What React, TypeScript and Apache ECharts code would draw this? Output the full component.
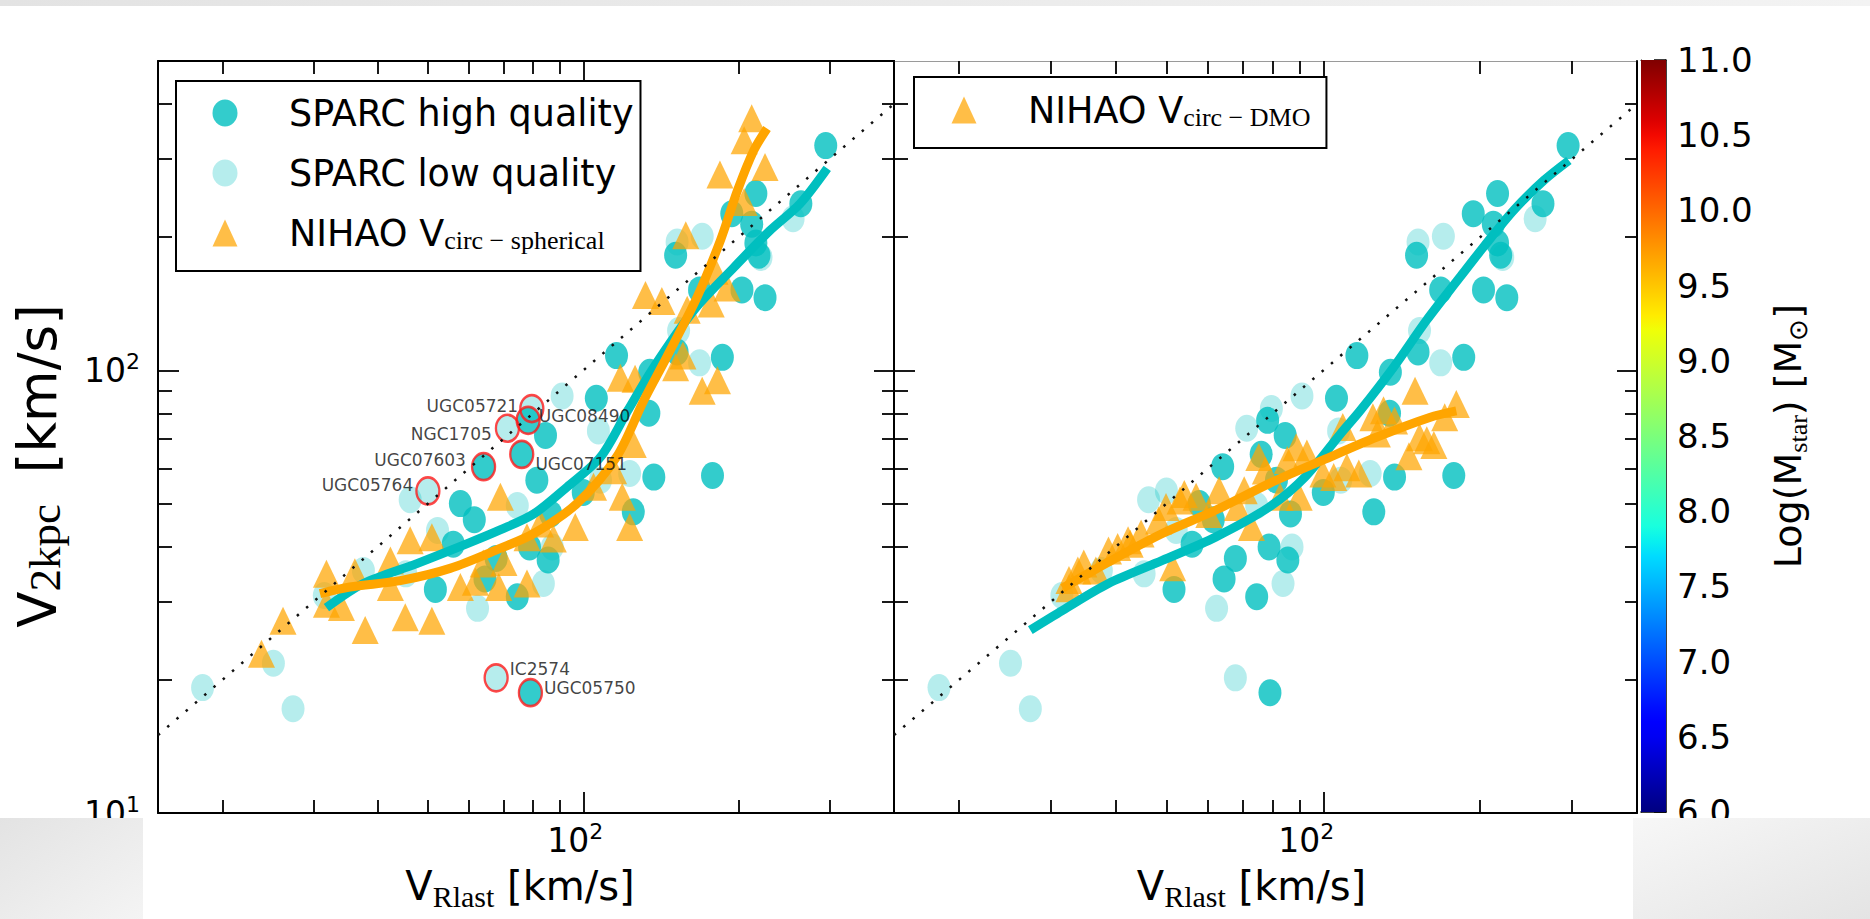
import React, { useEffect, useRef } from 'react';
import * as echarts from 'echarts';

// ---------------- data ----------------
const xRange = [15, 400];
const yRange = [10, 500];
const minorTickValues = [20, 30, 40, 50, 60, 70, 80, 90, 200, 300, 400];
const majorTickValues = [100];
const xLabelValues = [100];
const yLabelValues = [10, 100];
const colorbarRange = [6, 11];
const colorbarStep = 0.5;

const sparcHigh: [number, number][] = [
  [295, 322], [216, 251], [194, 226], [264, 238], [151, 182], [216, 194], [219, 182],
  [203, 152], [225, 146], [168, 152], [152, 110], [186, 107], [134.5, 99], [116, 108],
  [106, 86.5], [134, 80], [212, 214], [137, 57.4], [125, 47.9], [100, 53], [81.3, 56.5],
  [57.8, 50], [61.5, 46], [56, 40.5], [85.5, 37.3], [74.5, 30.8], [64.5, 33.8], [51.7, 32],
  [67.8, 37.6], [78.7, 39.9], [86.5, 47.4], [84.5, 71.3], [178, 57.9],
];

const sparcLow: [number, number][] = [
  [18.3, 19.2], [25.1, 21.8], [27.4, 17.2], [255, 220], [152, 195], [170, 201], [221, 180],
  [153, 123], [168, 104], [91, 87.5], [46.2, 51], [52.2, 43.5], [74.5, 49.5], [83.7, 33],
  [62.4, 29], [37.5, 35.3], [45.3, 34.7], [31.5, 31], [87.1, 39.9], [123, 58.5], [108, 56.5],
  [107, 73],
];

const namedGalaxies = ['UGC05721', 'UGC08490', 'NGC1705', 'UGC07603', 'UGC07151', 'UGC05764', 'IC2574', 'UGC05750'];
const namedValues: [number, number][] = [
  [79.5, 82], [78.2, 77.1], [71.3, 74], [64.1, 60.6], [76, 64.6], [50, 53.4], [67.8, 20.2], [79, 18.7],
];
const namedHighQuality = [false, true, false, true, true, false, false, true];

const nihaoSpherical: [number, number][] = [
  [212, 371], [205, 331], [184, 277], [225, 288], [205, 240], [158, 202], [180, 168], [132, 148],
  [142, 143.5], [159, 137], [177, 141.6], [190, 154], [156, 108], [151, 101.7], [118, 96.3],
  [126, 95.8], [182, 95], [170, 90], [125, 68.2], [119, 51.8], [123, 44.3], [114.5, 59.5],
  [96.5, 44.3], [87.5, 41.7], [77.8, 42], [69.1, 51.8], [77.8, 33], [68.6, 32.4], [57.8, 32.4],
  [61.8, 33.3], [70.2, 36.9], [50.9, 42], [46.2, 41.3], [42.3, 37.2], [42.3, 32.4], [36.1, 35],
  [31.8, 34.7], [31.8, 29.7], [34, 29.2], [37.8, 25.9], [45.2, 27.7], [50.9, 27.2], [26.2, 27.2],
  [23.8, 22.9], [82.6, 45.1], [104.7, 54.6], [64, 36.6],
];

const nihaoDMO: [number, number][] = [
  [32.5, 33.6], [32.5, 32.2], [34.7, 36.6], [36.6, 35.3], [33.8, 35.3], [38.7, 39.2], [40.3, 39.9],
  [42.6, 40.6], [42.2, 41.3], [44.7, 42.8], [48.3, 45.8], [49.9, 49.1], [53.1, 50.8], [54.1, 52.6],
  [57, 51.8], [51.4, 35.9], [60.3, 47.4], [63.1, 53.6], [68.4, 49.1], [70.5, 53.6], [72.8, 44.3],
  [75.2, 63.7], [77.4, 59.4], [82.6, 51.8], [85.3, 62.7], [88.7, 67], [89.9, 51.8], [93, 64.9],
  [99.8, 58.5], [104.7, 57.4], [109, 74.5], [111, 60.4], [117, 58.5], [124.5, 78.4], [127, 72],
  [130.5, 81.3], [137, 77], [146, 64], [150, 90], [153, 70.6], [158, 69.5], [163, 67.8],
  [171, 78.4], [180, 84],
];

const medianSparcLeft: [number, number][] = [
  [31.8, 29.1], [37.5, 33.0], [47.6, 36.6], [59.6, 40.6], [69, 43.6], [80.2, 47.4], [93, 54.5],
  [108, 63.7], [122, 81.2], [137, 101.7], [164, 137], [196, 171], [230, 207], [263, 238], [297, 286],
];
const medianNihaoSpherical: [number, number][] = [
  [30.9, 31.3], [35.3, 32.4], [44.2, 33.5], [55.2, 35.7], [69, 39.6], [80.2, 42.8], [97.2, 50],
  [116, 63.7], [131, 85.5], [145, 107], [166, 146], [184.5, 197], [199, 255], [214, 314], [227, 352],
];
const medianSparcRight: [number, number][] = [
  [27.4, 25.9], [31.6, 28.7], [38.7, 33.0], [49.1, 37.2], [62.1, 42.0], [78.7, 49.1], [92.2, 57.4],
  [108, 72], [117.8, 81.2], [136.5, 101.7], [158, 130], [183, 162.5], [203, 190], [232, 230],
  [265, 268.6], [296, 298],
];
const medianNihaoDMO: [number, number][] = [
  [31.6, 32.2], [38.7, 36.9], [49.1, 42.8], [62.1, 48.3], [78.7, 55.5], [99.8, 62.7], [126.4, 70.6],
  [160, 78.3], [180, 81],
];
const oneToOne: [number, number][] = [[15, 15], [400, 400]];

// ---------------- styles ----------------
const SANS = 'DejaVu Sans';
const SERIF = 'Liberation Serif';
const INK = '#000';
const C_HIGH = '#00BFBF';
const C_LOW = 'rgba(0,191,191,0.36)';
const C_ORANGE = '#FFA500';
const C_TRI = 'rgba(255,165,0,0.9)';
const ELLIPSE = 'path://M0,1 A1,1 0 1 1 2,1 A1,1 0 1 1 0,1 Z';
const CIRCLE_SIZE = [23, 27];
const TRI_SIZE = [27, 28];

const namedLabelStyle: any[] = [
  { position: 'left', distance: 1, offset: [0, -3] },
  { position: 'right', distance: -2, offset: [0, -4] },
  { position: 'left', distance: 3, offset: [0, 6] },
  { position: 'left', distance: 5, offset: [0, -7] },
  { position: 'right', distance: 1, offset: [0, 10] },
  { position: 'left', distance: 2, offset: [0, -6] },
  { position: 'right', distance: 1, offset: [0, -9] },
  { position: 'right', distance: 1, offset: [0, -5] },
];

const JET_R = [[0, 0], [0.35, 0], [0.66, 1], [0.89, 1], [1, 0.5]];
const JET_G = [[0, 0], [0.125, 0], [0.375, 1], [0.64, 1], [0.91, 0], [1, 0]];
const JET_B = [[0, 0.5], [0.11, 1], [0.34, 1], [0.65, 0], [1, 0]];
function interp(pts: number[][], t: number) {
  for (let i = 1; i < pts.length; i++) {
    if (t <= pts[i][0]) {
      const [t0, v0] = pts[i - 1];
      const [t1, v1] = pts[i];
      return v0 + ((v1 - v0) * (t - t0)) / (t1 - t0);
    }
  }
  return pts[pts.length - 1][1];
}
function jet(t: number) {
  const c = (a: number) => Math.round(a * 255);
  return `rgb(${c(interp(JET_R, t))},${c(interp(JET_G, t))},${c(interp(JET_B, t))})`;
}

const powLabel = (v: number) => `{b|10}{s|${Math.round(Math.log10(v))}}`;
const powRich = {
  b: { fontFamily: SANS, fontSize: 33, lineHeight: 40, color: INK },
  s: { fontFamily: SANS, fontSize: 22, lineHeight: 14, verticalAlign: 'top', color: INK },
};

const lineOn = (color = INK, width = 2) => ({ show: true, onZero: false, lineStyle: { color, width } });

function frameAxis(kind: 'x' | 'y', gridIndex: number, position: string, ticks: number[], len: number, extra: any = {}) {
  const range = kind === 'x' ? xRange : yRange;
  return {
    type: 'log',
    logBase: 10,
    gridIndex,
    position,
    min: range[0],
    max: range[1],
    axisLine: { show: false, onZero: false },
    axisTick: { show: true, inside: true, length: len, customValues: ticks, lineStyle: { color: INK, width: 1.8 } },
    axisLabel: { show: false },
    splitLine: { show: false },
    minorTick: { show: false },
    minorSplitLine: { show: false },
    ...extra,
  };
}

const legendText = (name: string) =>
  name === 'NIHAO spherical'
    ? 'NIHAO V{sub|circ − spherical}'
    : name === 'NIHAO DMO'
    ? 'NIHAO V{sub|circ − DMO}'
    : name;

const legendTextStyle = {
  fontFamily: SANS,
  fontSize: 36.5,
  lineHeight: 40,
  color: INK,
  padding: [0, 0, 0, 46.5],
  rich: { sub: { fontFamily: SERIF, fontSize: 26, lineHeight: 23, verticalAlign: 'bottom', color: INK } },
};

function buildOption() {
  const grid = [
    { left: 158, top: 61, width: 736, height: 752 },
    { left: 894, top: 61, width: 743, height: 752 },
    { left: 1641, top: 60, width: 25, height: 752 },
  ].map((g) => ({ ...g, containLabel: false, outerBoundsMode: 'none' }));

  const xAxes: any[] = [];
  const yAxes: any[] = [];
  const mainX: number[] = [];
  const mainY: number[] = [];

  for (const g of [0, 1]) {
    mainX.push(xAxes.length);
    xAxes.push(
      frameAxis('x', g, 'bottom', minorTickValues, 13, {
        axisLine: lineOn(),
        axisLabel: {
          show: true,
          customValues: xLabelValues,
          formatter: powLabel,
          rich: powRich,
          margin: 7,
          padding: [0, g === 0 ? 16 : 34, 0, 0],
          showMinLabel: true,
          showMaxLabel: true,
        },
        name: 'V{sub|Rlast} [km/s]',
        nameLocation: 'middle',
        nameGap: 44,
        nameTextStyle: {
          fontFamily: SANS,
          fontSize: 40,
          lineHeight: 50,
          color: INK,
          padding: [0, g === 0 ? 12 : 28, 0, 0],
          rich: { sub: { fontFamily: SERIF, fontSize: 30, lineHeight: 28, verticalAlign: 'bottom', color: INK } },
        },
      })
    );
    xAxes.push(frameAxis('x', g, 'bottom', majorTickValues, 21));
    xAxes.push(frameAxis('x', g, 'top', minorTickValues, 13, { axisLine: lineOn(g === 0 ? INK : '#9a9a9a', g === 0 ? 2 : 1) }));
    xAxes.push(frameAxis('x', g, 'top', majorTickValues, 21));

    mainY.push(yAxes.length);
    yAxes.push(
      frameAxis('y', g, 'left', minorTickValues, 14, {
        axisLine: lineOn(),
        axisLabel:
          g === 0
            ? {
                show: true,
                customValues: yLabelValues,
                formatter: powLabel,
                rich: powRich,
                margin: 18,
                showMinLabel: true,
                showMaxLabel: true,
              }
            : { show: false },
        ...(g === 0
          ? {
              name: 'V{sub|2kpc} [km/s]',
              nameLocation: 'middle',
              nameRotate: 90,
              nameGap: 91,
              nameTextStyle: {
                fontFamily: SANS,
                fontSize: 53,
                lineHeight: 60,
                color: INK,
                padding: [0, 58, 0, 0],
                rich: {
                  sub: {
                    fontFamily: SERIF, fontSize: 45, lineHeight: 36, verticalAlign: 'bottom', color: INK,
                    padding: [0, 14, 0, 0],
                  },
                },
              },
            }
          : {}),
      })
    );
    yAxes.push(frameAxis('y', g, 'left', majorTickValues, 21));
    yAxes.push(frameAxis('y', g, 'right', minorTickValues, 12, { axisLine: lineOn() }));
    yAxes.push(frameAxis('y', g, 'right', majorTickValues, 20));
  }

  // colorbar axes
  const cbX = xAxes.length;
  xAxes.push({
    type: 'category', gridIndex: 2, position: 'bottom', data: ['Mstar'],
    axisLine: lineOn(INK, 1.5), axisTick: { show: false }, axisLabel: { show: false }, splitLine: { show: false },
  });
  xAxes.push({
    type: 'category', gridIndex: 2, position: 'top', data: ['Mstar'],
    axisLine: lineOn(INK, 1), axisTick: { show: false }, axisLabel: { show: false }, splitLine: { show: false },
  });
  const cbY = yAxes.length;
  yAxes.push({
    type: 'value', gridIndex: 2, position: 'right',
    min: colorbarRange[0], max: colorbarRange[1], interval: colorbarStep, startValue: colorbarRange[0],
    axisLine: lineOn(INK, 1.5),
    axisTick: { show: true, inside: true, length: 12, lineStyle: { color: INK, width: 1.5 } },
    axisLabel: {
      show: true, margin: 11, formatter: (v: number) => v.toFixed(1),
      fontFamily: SANS, fontSize: 34, color: INK, showMinLabel: true, showMaxLabel: true,
    },
    splitLine: { show: false },
    name: 'Log(M{sub|star}) [M{sub|⊙}]',
    nameLocation: 'middle',
    nameRotate: 90,
    nameGap: 99,
    nameTextStyle: {
      fontFamily: SANS, fontSize: 38, lineHeight: 46, color: INK,
      rich: { sub: { fontFamily: SERIF, fontSize: 26, lineHeight: 28, verticalAlign: 'bottom', color: INK } },
    },
  });
  yAxes.push({
    type: 'value', gridIndex: 2, position: 'left', min: colorbarRange[0], max: colorbarRange[1],
    axisLine: lineOn(INK, 1), axisTick: { show: false }, axisLabel: { show: false }, splitLine: { show: false },
  });

  const jetStops = Array.from({ length: 51 }, (_, i) => ({ offset: i / 50, color: jet(i / 50) }));

  const highAll = sparcHigh.concat(namedValues.filter((_, i) => namedHighQuality[i]));
  const lowAll = sparcLow.concat(namedValues.filter((_, i) => !namedHighQuality[i]));

  const series: any[] = [];
  const panels = [
    { g: 0, tri: nihaoSpherical, triName: 'NIHAO spherical', cyan: medianSparcLeft, orange: medianNihaoSpherical },
    { g: 1, tri: nihaoDMO, triName: 'NIHAO DMO', cyan: medianSparcRight, orange: medianNihaoDMO },
  ];
  for (const p of panels) {
    const ax = { xAxisIndex: mainX[p.g], yAxisIndex: mainY[p.g] };
    series.push({
      type: 'scatter', name: 'SPARC low quality', ...ax, data: lowAll, symbol: ELLIPSE, symbolSize: CIRCLE_SIZE,
      symbolKeepAspect: false, itemStyle: { color: C_LOW }, silent: true,
    });
    series.push({
      type: 'scatter', name: 'SPARC high quality', ...ax, data: highAll, symbol: ELLIPSE, symbolSize: CIRCLE_SIZE,
      symbolKeepAspect: false, itemStyle: { color: C_HIGH }, silent: true,
    });
    series.push({
      type: 'line', name: 'SPARC median ' + p.g, ...ax, data: p.cyan, symbol: 'none', smooth: 0.3,
      lineStyle: { color: C_HIGH, width: 9 }, silent: true,
    });
    series.push({
      type: 'scatter', name: p.triName, ...ax, data: p.tri, symbol: 'triangle', symbolSize: TRI_SIZE,
      itemStyle: { color: C_TRI }, silent: true,
    });
    series.push({
      type: 'line', name: 'NIHAO median ' + p.g, ...ax, data: p.orange, symbol: 'none', smooth: 0.3,
      lineStyle: { color: C_ORANGE, width: 9 }, silent: true,
    });
    if (p.g === 0) {
      series.push({
        type: 'scatter', name: 'named galaxies', ...ax, symbol: ELLIPSE, symbolSize: CIRCLE_SIZE, symbolKeepAspect: false,
        silent: true, z: 3,
        data: namedGalaxies.map((name, i) => ({
          name,
          value: namedValues[i],
          itemStyle: { color: 'rgba(0,0,0,0)', borderColor: '#ff1a1a', borderWidth: 2.5 },
          label: {
            show: true, formatter: name, fontFamily: SANS, fontSize: 17, lineHeight: 15, color: '#111',
            ...namedLabelStyle[i],
          },
        })),
      });
    }
    series.push({
      type: 'line', name: 'one to one ' + p.g, ...ax, data: oneToOne, symbol: 'none', z: 4,
      lineStyle: { color: '#111', width: 2.5, type: [2.5, 9.7] }, silent: true,
    });
  }
  series.push({
    type: 'bar', name: 'colorbar', xAxisIndex: cbX, yAxisIndex: cbY, data: [colorbarRange[1]], barWidth: '100%',
    itemStyle: { color: new echarts.graphic.LinearGradient(0, 1, 0, 0, jetStops) }, silent: true,
  });

  return {
    animation: false,
    backgroundColor: '#fff',
    grid,
    xAxis: xAxes,
    yAxis: yAxes,
    legend: [
      {
        data: ['SPARC high quality', 'SPARC low quality', 'NIHAO spherical'],
        left: 176, top: 81, orient: 'vertical', itemWidth: 25, itemHeight: 27, itemGap: 20,
        padding: [12, 7, 18, 36.5], borderColor: INK, borderWidth: 2, backgroundColor: '#fff',
        symbolKeepAspect: false, selectedMode: false, formatter: legendText, textStyle: legendTextStyle,
      },
      {
        data: ['NIHAO DMO'],
        left: 914, top: 77, orient: 'vertical', itemWidth: 25, itemHeight: 27, itemGap: 20,
        padding: [13, 16, 18, 37.5], borderColor: INK, borderWidth: 2, backgroundColor: '#fff',
        symbolKeepAspect: false, selectedMode: false, formatter: legendText, textStyle: legendTextStyle,
      },
    ],
    graphic: [
      {
        type: 'rect', z: 100, silent: true, shape: { x: 0, y: 0, width: 1870, height: 6 },
        style: { fill: new echarts.graphic.LinearGradient(0, 0, 1, 0, [{ offset: 0, color: '#e3e3e3' }, { offset: 1, color: '#f3f3f3' }]) },
      },
      {
        type: 'rect', z: 100, silent: true, shape: { x: 0, y: 818, width: 143, height: 101 },
        style: { fill: new echarts.graphic.LinearGradient(0, 0, 1, 1, [{ offset: 0, color: '#e3e3e3' }, { offset: 1, color: '#f4f4f4' }]) },
      },
      {
        type: 'rect', z: 100, silent: true, shape: { x: 1633, y: 818, width: 237, height: 101 },
        style: { fill: new echarts.graphic.LinearGradient(0, 0, 1, 1, [{ offset: 0, color: '#f7f7f7' }, { offset: 1, color: '#e4e4e4' }]) },
      },
    ],
    series,
  };
}

export default function App() {
  const ref = useRef<HTMLDivElement>(null);
  useEffect(() => {
    if (!ref.current) return;
    const chart = echarts.init(ref.current, null, { renderer: 'svg' });
    chart.setOption(buildOption() as any);
    return () => chart.dispose();
  }, []);
  return (
    <div
      ref={ref}
      style={{ position: 'absolute', left: 0, top: 0, width: 1870, height: 919, background: '#fff' }}
    />
  );
}
